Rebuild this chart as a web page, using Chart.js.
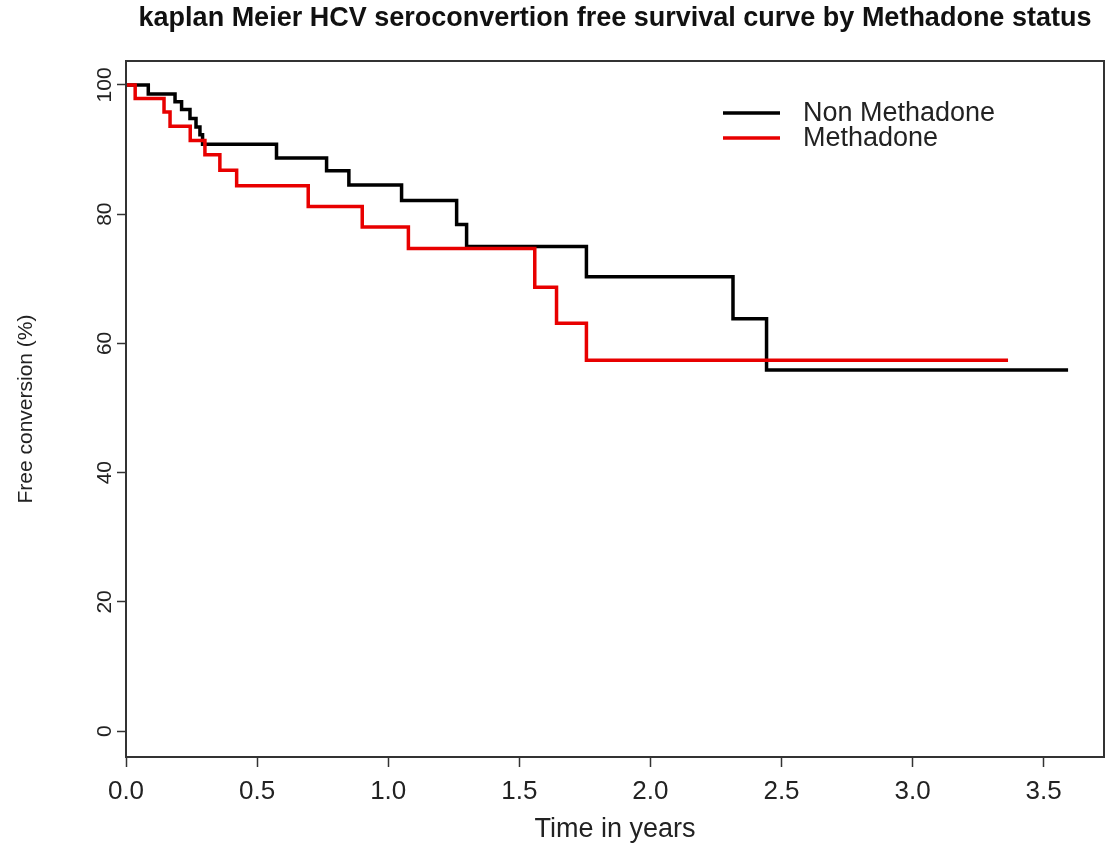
<!DOCTYPE html>
<html lang="en">
<head>
<meta charset="UTF-8">
<title>Kaplan Meier HCV</title>
<script src="https://cdn.jsdelivr.net/npm/chart.js"></script>
<style>
  body { margin: 0; background: #fff; }
  #wrap { width: 1111px; height: 843px; }
</style>
</head>
<body>
<div id="wrap"><canvas id="km" width="1111" height="843"></canvas></div>
<script>
// survival steps (time in years, % free of conversion)
const nonMethTime = [0, 0.085, 0.187, 0.212, 0.244, 0.267, 0.282, 0.292, 0.574, 0.765, 0.850, 1.051, 1.261, 1.299, 1.756, 2.315, 2.443, 3.593];
const nonMethSurv = [100, 98.6, 97.4, 96.2, 94.8, 93.5, 92.3, 90.8, 88.7, 86.7, 84.5, 82.1, 78.4, 75.0, 70.3, 63.8, 55.9, 55.9];
const methTime = [0, 0.035, 0.145, 0.168, 0.245, 0.301, 0.358, 0.422, 0.695, 0.901, 1.077, 1.559, 1.642, 1.756, 3.364];
const methSurv = [100, 97.9, 95.8, 93.6, 91.4, 89.2, 86.8, 84.4, 81.2, 78.0, 74.7, 68.7, 63.1, 57.4, 57.4];
const xTicks = [0, 0.5, 1, 1.5, 2, 2.5, 3, 3.5];
const yTicks = [0, 20, 40, 60, 80, 100];
const seriesNames = ['Non Methadone', 'Methadone'];

const FONT = "'Liberation Sans', Arial, Helvetica, sans-serif";

function pts(t, s) {
  return t.map((v, i) => ({ x: v, y: s[i] }));
}

// box around the plot + legend without frame, like base R
const rBox = {
  id: 'rBox',
  afterDraw(chart) {
    const ctx = chart.ctx;
    const a = chart.chartArea;
    ctx.save();
    ctx.strokeStyle = '#333';
    ctx.lineWidth = 2;
    ctx.strokeRect(a.left, a.top, a.right - a.left, a.bottom - a.top);

    // legend
    const ds = chart.data.datasets;
    ctx.font = '27px ' + FONT;
    ctx.textBaseline = 'middle';
    ctx.textAlign = 'left';
    ds.forEach((d, i) => {
      const y = 113 + i * 25;
      ctx.strokeStyle = d.borderColor;
      ctx.lineWidth = 3.5;
      ctx.beginPath();
      ctx.moveTo(723, y);
      ctx.lineTo(780, y);
      ctx.stroke();
      ctx.fillStyle = '#222';
      ctx.fillText(d.label, 803, y + 1);
    });
    ctx.restore();
  }
};

new Chart(document.getElementById('km').getContext('2d'), {
  type: 'line',
  data: {
    datasets: [
      {
        label: seriesNames[0],
        data: pts(nonMethTime, nonMethSurv),
        borderColor: '#000000',
        borderWidth: 3.5,
        stepped: 'before',
        pointRadius: 0,
        fill: false,
        order: 2
      },
      {
        label: seriesNames[1],
        data: pts(methTime, methSurv),
        borderColor: '#e80000',
        borderWidth: 3.5,
        stepped: 'before',
        pointRadius: 0,
        fill: false,
        order: 1
      }
    ]
  },
  options: {
    responsive: false,
    animation: false,
    layout: { padding: { left: 0, right: 7, top: 0, bottom: 0 } },
    plugins: {
      legend: { display: false },
      tooltip: { enabled: false },
      title: {
        display: true,
        text: 'kaplan Meier HCV seroconvertion free survival curve by Methadone status',
        color: '#111',
        fullSize: false,
        font: { family: FONT, size: 27, weight: 'bold', lineHeight: 1.2 },
        padding: { top: 2, bottom: 26.6 }
      }
    },
    scales: {
      x: {
        type: 'linear',
        min: 0,
        max: 3.73,
        afterBuildTicks: s => { s.ticks = xTicks.map(v => ({ value: v })); },
        afterFit: s => { s.height = 86; },
        grid: { drawOnChartArea: false, drawTicks: true, tickLength: 10, color: '#333', tickWidth: 1.5 },
        border: { display: true, color: '#333', width: 2 },
        ticks: {
          color: '#222',
          padding: 9,
          maxRotation: 0,
          font: { family: FONT, size: 26 },
          callback: v => v.toFixed(1)
        },
        title: {
          display: true,
          text: 'Time in years',
          color: '#222',
          font: { family: FONT, size: 27, lineHeight: 1.0 },
          padding: { top: 0, bottom: 0 }
        }
      },
      y: {
        type: 'linear',
        min: -4,
        max: 103.7,
        afterBuildTicks: s => { s.ticks = yTicks.map(v => ({ value: v })); },
        afterFit: s => { s.width = 126; },
        grid: { drawOnChartArea: false, drawTicks: true, tickLength: 9, color: '#333', tickWidth: 1.5 },
        border: { display: true, color: '#333', width: 2 },
        ticks: {
          color: '#222',
          padding: -6,
          minRotation: 90,
          maxRotation: 90,
          crossAlign: 'center',
          font: { family: FONT, size: 21 }
        },
        title: {
          display: true,
          text: 'Free conversion (%)',
          color: '#222',
          font: { family: FONT, size: 21, lineHeight: 1.2 },
          padding: { top: 14, bottom: 0 }
        }
      }
    }
  },
  plugins: [rBox]
});
</script>
</body>
</html>
